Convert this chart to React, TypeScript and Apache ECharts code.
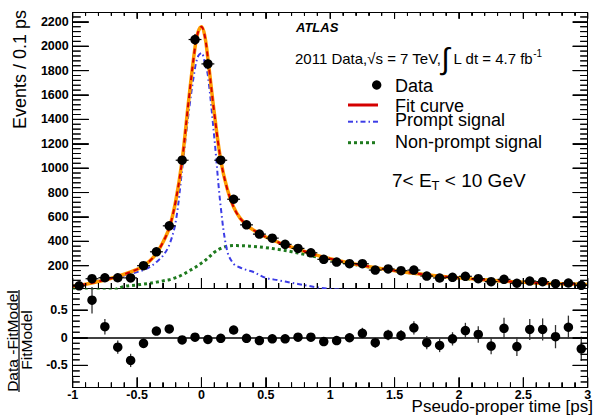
import React, { useEffect, useRef } from 'react';
import * as echarts from 'echarts';

const FONT = '"Liberation Sans", Arial, Helvetica, sans-serif';

// ---- data: binned measurements ----
const binCenters = [-0.95, -0.85, -0.75, -0.65, -0.55, -0.45, -0.35, -0.25, -0.15, -0.05, 0.05, 0.15, 0.25, 0.35, 0.45, 0.55, 0.65, 0.75, 0.85, 0.95, 1.05, 1.15, 1.25, 1.35, 1.45, 1.55, 1.65, 1.75, 1.85, 1.95, 2.05, 2.15, 2.25, 2.35, 2.45, 2.55, 2.65, 2.75, 2.85, 2.95];
const binHalfWidth = 0.05;
const eventCounts = [35, 93, 101, 101, 100, 200, 314, 527, 1065, 2055, 1855, 1065, 745, 535, 459, 426, 375, 342, 306, 252, 230, 216, 216, 164, 173, 159, 164, 115, 99, 105, 113, 93, 69, 88, 56, 74, 69, 52, 58, 39];
const eventErrors = [12, 18, 18, 18, 18, 20, 22, 26, 33, 45, 43, 33, 28, 23, 21, 21, 20, 19, 18, 16, 15, 15, 15, 13, 13, 13, 13, 11, 10, 10, 11, 10, 9, 10, 8, 9, 9, 8, 8, 7];
const ratioValues: (number | null)[] = [null, 0.68, 0.2, -0.17, -0.41, -0.1, 0.12, 0.16, -0.04, 0.01, -0.03, -0.01, 0.14, -0.01, -0.05, -0.02, -0.02, 0.01, 0.01, -0.07, -0.05, 0.0, 0.08, -0.09, 0.05, 0.04, 0.18, -0.09, -0.14, -0.02, 0.13, 0.06, -0.15, 0.17, -0.16, 0.15, 0.15, 0.02, 0.19, -0.2];
const ratioErrors = [0, 0.24, 0.14, 0.12, 0.12, 0.09, 0.07, 0.06, 0.04, 0.03, 0.03, 0.04, 0.05, 0.05, 0.05, 0.05, 0.055, 0.06, 0.06, 0.065, 0.07, 0.075, 0.1, 0.09, 0.095, 0.1, 0.12, 0.12, 0.12, 0.12, 0.14, 0.15, 0.15, 0.19, 0.17, 0.19, 0.2, 0.21, 0.21, 0.22];

// ---- data: fitted curves ----
const curveTimes = [-1, -0.9, -0.8, -0.7, -0.6, -0.5, -0.45, -0.4, -0.35, -0.3, -0.25, -0.2, -0.15, -0.1, -0.05, -0.025, 0, 0.025, 0.05, 0.1, 0.15, 0.2, 0.25, 0.3, 0.35, 0.4, 0.5, 0.6, 0.7, 0.8, 0.9, 1.0, 1.2, 1.4, 1.6, 1.8, 2.0, 2.2, 2.4, 2.6, 2.8, 3.0];
const fitCurve = [32, 48, 70, 97, 130, 170, 198, 240, 300, 390, 510, 730, 1065, 1550, 1990, 2120, 2160, 2090, 1900, 1450, 1065, 830, 680, 590, 535, 495, 435, 390, 352, 318, 285, 258, 212, 175, 145, 120, 100, 84, 70, 59, 52, 46];
const promptCurve = [32, 48, 70, 95, 120, 148, 165, 190, 230, 280, 370, 560, 990, 1450, 1820, 1920, 1945, 1870, 1760, 1250, 680, 320, 215, 185, 165, 150, 100, 80, 60, 40, 22, 10, 0, 0, 0, 0, 0, 0, 0, 0, 0, 0];
const nonPromptCurve = [0, 0, 0, 0, 30, 42, 49, 56, 65, 75, 85, 102, 125, 155, 185, 202, 221, 240, 262, 310, 342, 360, 365, 364, 362, 358, 348, 333, 315, 293, 270, 250, 208, 173, 144, 119, 99, 83, 69, 58, 51, 45];

// ---- axes and tick labels ----
const xMin = -1;
const xMax = 3;
const mainYMin = 17;
const mainYMax = 2275;
const ratioYMin = -0.9;
const ratioYMax = 0.9;
const xTickLabels = [-1, -0.5, 0, 0.5, 1, 1.5, 2, 2.5, 3];
const mainYTickLabels = [200, 400, 600, 800, 1000, 1200, 1400, 1600, 1800, 2000, 2200];
const ratioYTickLabels = [-0.5, 0, 0.5];
const xMinorStep = 0.1;
const mainYMinorStep = 40;
const ratioYMinorStep = 0.1;

const zip = (xs: number[], ys: number[]) => xs.map((x, i) => [x, ys[i]]);
const near = (v: number, arr: number[]) => arr.some((t) => Math.abs(t - v) < 1e-6);
const minorValues = (lo: number, hi: number, step: number, majors: number[]) => {
  const out: number[] = [];
  const start = Math.ceil(lo / step - 1e-9);
  const end = Math.floor(hi / step + 1e-9);
  for (let k = start; k <= end; k++) {
    const v = Math.round(k * step * 1e6) / 1e6;
    if (v > lo + 1e-9 && v < hi - 1e-9 && !near(v, majors)) out.push(v);
  }
  return out;
};

export default function App() {
  const ref = useRef<HTMLDivElement>(null);
  useEffect(() => {
    if (!ref.current) return;
    const chart = echarts.init(ref.current, undefined, { renderer: 'svg' });

    const black = '#000';
    const labelStyle = { fontFamily: FONT, fontSize: 12.5, fontWeight: 'bold' as const, color: black };
    const axisLine = { show: true, onZero: false, lineStyle: { color: black, width: 1 } };
    const tickLine = { color: black, width: 1 };

    const xMinor = minorValues(xMin, xMax, xMinorStep, xTickLabels);
    const mainYMinor = minorValues(mainYMin, mainYMax, mainYMinorStep, mainYTickLabels);
    const ratioYMinor = minorValues(ratioYMin, ratioYMax, ratioYMinorStep, ratioYTickLabels);

    // tick marks: [x, y, dxPixels, dyPixels], starting on the frame
    const mainTicks: number[][] = [
      ...mainYTickLabels.map((v) => [xMin, v, 16, 0]),
      ...mainYMinor.map((v) => [xMin, v, 8, 0]),
      ...mainYTickLabels.map((v) => [xMax, v, -15, 0]),
      ...mainYMinor.map((v) => [xMax, v, -7.5, 0]),
      ...xTickLabels.map((v) => [v, mainYMin, 0, -10]),
      ...xMinor.map((v) => [v, mainYMin, 0, -5]),
      ...xTickLabels.map((v) => [v, mainYMax, 0, 6]),
      ...xMinor.map((v) => [v, mainYMax, 0, 3]),
    ];
    const ratioTicks: number[][] = [
      ...ratioYTickLabels.map((v) => [xMin, v, 15, 0]),
      ...ratioYMinor.map((v) => [xMin, v, 7, 0]),
      ...ratioYTickLabels.map((v) => [xMax, v, -15, 0]),
      ...ratioYMinor.map((v) => [xMax, v, -7, 0]),
      ...xTickLabels.map((v) => [v, ratioYMin, 0, -10]),
      ...xMinor.map((v) => [v, ratioYMin, 0, -5]),
    ];
    const tickRender = (params: any, api: any) => {
      const p = api.coord([api.value(0), api.value(1)]);
      const dx = api.value(2), dy = api.value(3);
      return {
        type: 'line',
        shape: { x1: p[0], y1: p[1], x2: p[0] + dx, y2: p[1] + dy },
        style: { stroke: black, lineWidth: 1 },
      };
    };

    const xAxisOf = (gridIndex: number, position: 'top' | 'bottom', major: number, minor: number, labels: boolean) => ({
      type: 'value', gridIndex, position, min: xMin, max: xMax, interval: 0.5,
      axisLine,
      axisTick: { show: true, inside: true, length: major, lineStyle: tickLine },
      minorTick: { show: true, splitNumber: 5, length: minor, lineStyle: tickLine },
      splitLine: { show: false },
      axisLabel: labels
        ? { show: true, ...labelStyle, margin: 1, formatter: (v: number) => (near(v, xTickLabels) ? String(v) : '') }
        : { show: false },
    });

    const baseGraphic: any[] = [
      {
        type: 'text', x: 20, y: 10, rotation: Math.PI / 2,
        style: { text: 'Events / 0.1 ps', fontFamily: FONT, fontSize: 18, fill: black, align: 'right', verticalAlign: 'middle' },
      },
      {
        type: 'text', x: 12, y: 341, rotation: Math.PI / 2,
        style: { text: 'Data -FitModel', fontFamily: FONT, fontSize: 15.5, fill: black, align: 'center', verticalAlign: 'middle' },
      },
      { type: 'rect', shape: { x: 18.4, y: 290, width: 1.2, height: 102 }, style: { fill: black } },
      {
        type: 'text', x: 26.5, y: 340, rotation: Math.PI / 2,
        style: { text: 'FitModel', fontFamily: FONT, fontSize: 15.5, fill: black, align: 'center', verticalAlign: 'middle' },
      },
      {
        type: 'text', x: 593, y: 406.5,
        style: { text: 'Pseudo-proper time [ps]', fontFamily: FONT, fontSize: 17, fill: black, align: 'right', verticalAlign: 'middle' },
      },
      {
        type: 'text', x: 296, y: 27,
        style: { text: 'ATLAS', fontFamily: FONT, fontSize: 13, fontWeight: 'bold', fontStyle: 'italic', fill: black, align: 'left', verticalAlign: 'middle' },
      },
      {
        type: 'text', x: 295, y: 58,
        style: {
          text: '{a|2011 Data,√s = 7 TeV,}{i|∫}{a| L dt = 4.7 fb}{s|-1}',
          align: 'left', verticalAlign: 'middle',
          rich: {
            a: { fontFamily: FONT, fontSize: 15, fill: black, lineHeight: 20 },
            i: { fontFamily: FONT, fontSize: 30, fill: black, lineHeight: 20 },
            s: { fontFamily: FONT, fontSize: 10, fill: black, lineHeight: 11, verticalAlign: 'top' },
          },
        },
      },
      { type: 'circle', shape: { cx: 376.7, cy: 85, r: 4.7 }, style: { fill: black } },
      {
        type: 'text', x: 395, y: 86,
        style: { text: 'Data', fontFamily: FONT, fontSize: 18, fill: black, align: 'left', verticalAlign: 'middle' },
      },
      { type: 'rect', shape: { x: 348, y: 103.5, width: 30, height: 3 }, style: { fill: '#d40000' } },
      {
        type: 'text', x: 395, y: 106,
        style: { text: 'Fit curve', fontFamily: FONT, fontSize: 18, fill: black, align: 'left', verticalAlign: 'middle' },
      },
      { type: 'rect', shape: { x: 348, y: 120.7, width: 5, height: 2 }, style: { fill: '#3c3ce6' } },
      { type: 'rect', shape: { x: 356, y: 120.7, width: 1.5, height: 2 }, style: { fill: '#3c3ce6' } },
      { type: 'rect', shape: { x: 360.5, y: 120.7, width: 5, height: 2 }, style: { fill: '#3c3ce6' } },
      { type: 'rect', shape: { x: 368.5, y: 120.7, width: 1.5, height: 2 }, style: { fill: '#3c3ce6' } },
      { type: 'rect', shape: { x: 373, y: 120.7, width: 5, height: 2 }, style: { fill: '#3c3ce6' } },
      {
        type: 'text', x: 395, y: 120,
        style: { text: 'Prompt signal', fontFamily: FONT, fontSize: 18, fill: black, align: 'left', verticalAlign: 'middle' },
      },
      { type: 'rect', shape: { x: 348, y: 141.2, width: 3, height: 3 }, style: { fill: '#1e7a1e' } },
      { type: 'rect', shape: { x: 354, y: 141.2, width: 3, height: 3 }, style: { fill: '#1e7a1e' } },
      { type: 'rect', shape: { x: 360, y: 141.2, width: 3, height: 3 }, style: { fill: '#1e7a1e' } },
      { type: 'rect', shape: { x: 366, y: 141.2, width: 3, height: 3 }, style: { fill: '#1e7a1e' } },
      { type: 'rect', shape: { x: 372, y: 141.2, width: 3, height: 3 }, style: { fill: '#1e7a1e' } },
      {
        type: 'text', x: 395, y: 142,
        style: { text: 'Non-prompt signal', fontFamily: FONT, fontSize: 18, fill: black, align: 'left', verticalAlign: 'middle' },
      },
      {
        type: 'text', x: 392, y: 180,
        style: {
          text: '{a|7< E}{b|T}{a| < 10 GeV}',
          align: 'left', verticalAlign: 'middle',
          rich: {
            a: { fontFamily: FONT, fontSize: 19, fill: black, lineHeight: 24 },
            b: { fontFamily: FONT, fontSize: 13, fill: black, lineHeight: 12, verticalAlign: 'bottom' },
          },
        },
      },
    ];

    const option: any = {
      animation: false,
      backgroundColor: '#fff',
      grid: [
        { left: 72.7, right: 7.3, top: 12.7, height: 275.3 },
        { left: 72.7, right: 7.3, top: 288, height: 99.5 },
      ],
      xAxis: [
        xAxisOf(0, 'bottom', 10, 5, false),
        xAxisOf(0, 'top', 6, 3, false),
        xAxisOf(1, 'bottom', 10, 5, true),
      ],
      yAxis: [
        {
          type: 'value', gridIndex: 0, position: 'left', min: mainYMin, max: mainYMax, splitNumber: 11,
          axisLine, axisTick: { show: true, inside: true, length: 16, lineStyle: tickLine }, splitLine: { show: false },
          axisLabel: { show: true, ...labelStyle, margin: 4, formatter: (v: number) => (near(v, mainYTickLabels) ? String(v) : '') },
        },
        {
          type: 'value', gridIndex: 0, position: 'right', min: mainYMin, max: mainYMax, splitNumber: 11,
          axisLine, axisTick: { show: true, inside: true, length: 15, lineStyle: tickLine }, splitLine: { show: false }, axisLabel: { show: false },
        },
        {
          type: 'value', gridIndex: 1, position: 'left', min: ratioYMin, max: ratioYMax, splitNumber: 4,
          axisLine, axisTick: { show: true, inside: true, length: 15, lineStyle: tickLine }, splitLine: { show: false },
          axisLabel: { show: true, ...labelStyle, margin: 5, formatter: (v: number) => (near(v, ratioYTickLabels) ? String(v) : '') },
        },
        {
          type: 'value', gridIndex: 1, position: 'right', min: ratioYMin, max: ratioYMax, splitNumber: 4,
          axisLine, axisTick: { show: true, inside: true, length: 15, lineStyle: tickLine }, splitLine: { show: false }, axisLabel: { show: false },
        },
      ],
      series: [
        {
          name: 'Non-prompt signal', type: 'line', xAxisIndex: 0, yAxisIndex: 0,
          data: zip(curveTimes, nonPromptCurve), smooth: 0.35, symbol: 'none',
          lineStyle: { color: '#1e7a1e', width: 3, type: [3, 3] }, z: 2,
        },
        {
          name: 'Prompt signal', type: 'line', xAxisIndex: 0, yAxisIndex: 0,
          data: zip(curveTimes, promptCurve), smooth: 0.35, symbol: 'none',
          lineStyle: { color: '#3c3ce6', width: 2, type: [5, 3, 1.5, 3] }, z: 3,
        },
        {
          name: 'Fit curve', type: 'line', xAxisIndex: 0, yAxisIndex: 0,
          data: zip(curveTimes, fitCurve), smooth: 0.35, symbol: 'none',
          lineStyle: { color: '#ff9c00', width: 3.5 }, z: 4,
        },
        {
          name: 'Fit curve (dashed)', type: 'line', xAxisIndex: 0, yAxisIndex: 0,
          data: zip(curveTimes, fitCurve), smooth: 0.35, symbol: 'none',
          lineStyle: { color: '#d40000', width: 2, type: [5, 4] }, z: 5,
        },
        {
          name: 'Data errors', type: 'custom', xAxisIndex: 0, yAxisIndex: 0,
          data: binCenters.map((x, i) => [x, eventCounts[i], eventErrors[i]]),
          encode: { x: 0, y: 1 }, z: 6,
          renderItem: (params: any, api: any) => {
            const x = api.value(0), y = api.value(1), e = api.value(2);
            const l = api.coord([x - binHalfWidth, y]);
            const r = api.coord([x + binHalfWidth, y]);
            const t = api.coord([x, y + e]);
            const b = api.coord([x, y - e]);
            return {
              type: 'group',
              children: [
                { type: 'rect', shape: { x: l[0], y: l[1] - 0.6, width: r[0] - l[0], height: 1.2 }, style: { fill: black } },
                { type: 'rect', shape: { x: t[0] - 0.6, y: t[1], width: 1.2, height: b[1] - t[1] }, style: { fill: black } },
              ],
            };
          },
        },
        {
          name: 'Data', type: 'scatter', xAxisIndex: 0, yAxisIndex: 0,
          data: zip(binCenters, eventCounts), symbol: 'circle', symbolSize: 9.5,
          itemStyle: { color: black, opacity: 1 }, z: 7,
        },
        {
          name: 'Ratio errors', type: 'custom', xAxisIndex: 2, yAxisIndex: 2,
          data: binCenters.map((x, i) => [x, ratioValues[i], ratioErrors[i]]).filter((d) => d[1] !== null),
          encode: { x: 0, y: 1 }, z: 6,
          renderItem: (params: any, api: any) => {
            const x = api.value(0), y = api.value(1), e = api.value(2);
            const t = api.coord([x, y + e]);
            const b = api.coord([x, y - e]);
            return { type: 'rect', shape: { x: t[0] - 0.65, y: t[1], width: 1.3, height: b[1] - t[1] }, style: { fill: '#333' } };
          },
        },
        {
          name: 'Ratio', type: 'scatter', xAxisIndex: 2, yAxisIndex: 2,
          data: binCenters.map((x, i) => [x, ratioValues[i]]).filter((d) => d[1] !== null),
          symbol: 'circle', symbolSize: 9.5, itemStyle: { color: black, opacity: 1 }, z: 7,
          markLine: {
            silent: true, symbol: 'none', label: { show: false },
            lineStyle: { color: black, type: 'solid', width: 1.5 },
            data: [{ yAxis: 0 }],
          },
        },
        {
          name: 'Main frame ticks', type: 'custom', xAxisIndex: 0, yAxisIndex: 0,
          data: mainTicks, encode: { x: 0, y: 1 }, z: 8, clip: false,
          renderItem: tickRender,
        },
        {
          name: 'Ratio frame ticks', type: 'custom', xAxisIndex: 2, yAxisIndex: 2,
          data: ratioTicks, encode: { x: 0, y: 1 }, z: 8, clip: false,
          renderItem: tickRender,
        },
      ],
      graphic: baseGraphic,
    };

    chart.setOption(option);

    // extra safety: also place the frame ticks as graphic rects, through the axes' own scales
    try {
      const tickEls: any[] = [];
      const addTicks = (finders: any[], ticks: number[][]) => {
        ticks.forEach(([x, y, dx, dy]) => {
          let p: any = null;
          for (const f of finders) {
            try { p = chart.convertToPixel(f, [x, y]); } catch (e) { p = null; }
            if (p && isFinite(p[0]) && isFinite(p[1])) break;
          }
          if (!p || !isFinite(p[0]) || !isFinite(p[1])) return;
          const shape = dx !== 0
            ? { x: Math.min(p[0], p[0] + dx), y: p[1] - 0.5, width: Math.abs(dx), height: 1 }
            : { x: p[0] - 0.5, y: Math.min(p[1], p[1] + dy), width: 1, height: Math.abs(dy) };
          tickEls.push({ type: 'rect', shape, style: { fill: black }, z: 100 });
        });
      };
      addTicks([{ xAxisIndex: 0, yAxisIndex: 0 }, { gridIndex: 0 }], mainTicks);
      addTicks([{ xAxisIndex: 2, yAxisIndex: 2 }, { gridIndex: 1 }], ratioTicks);
      if (tickEls.length) chart.setOption({ graphic: [...baseGraphic, ...tickEls] });
    } catch (e) {
      // keep the chart as it is if conversion fails
    }

    return () => chart.dispose();
  }, []);

  return (
    <div
      ref={ref}
      style={{ position: 'fixed', left: 0, top: 0, width: 595, height: 417, background: '#fff' }}
    />
  );
}
